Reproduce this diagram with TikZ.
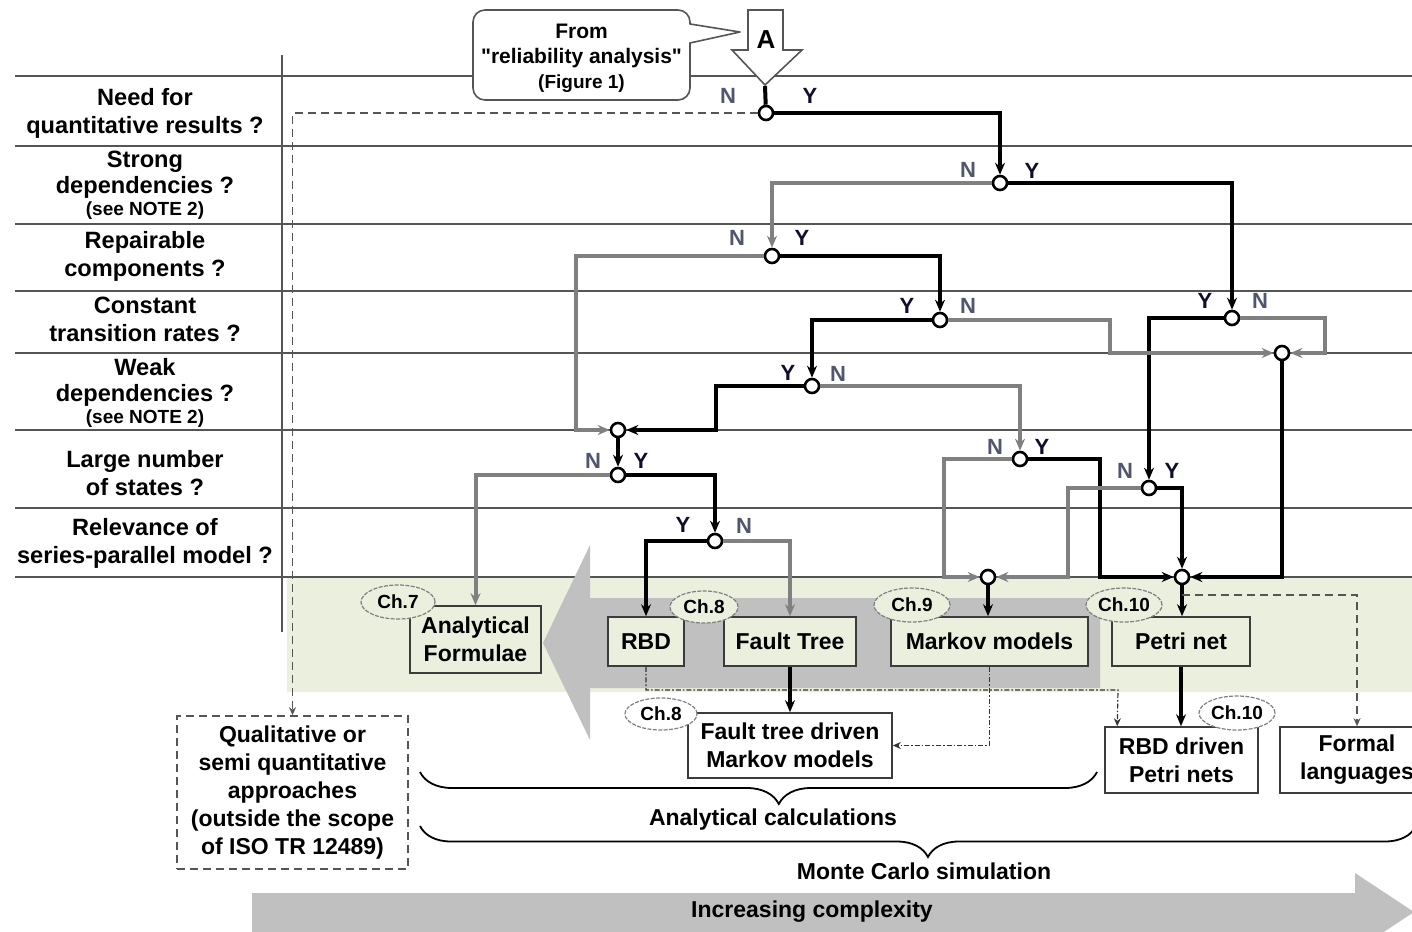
\documentclass[tikz,border=0pt]{standalone}
\usepackage{fontspec}
\setmainfont{Liberation Sans}
\newfontfamily\qfont{Liberation Sans}[Ligatures=TeXOff]
\usetikzlibrary{arrows.meta,shapes.geometric,decorations.pathreplacing,calc}
\definecolor{band}{RGB}{234,239,222}
\definecolor{arrowgray}{RGB}{192,192,192}
\definecolor{nogray}{RGB}{128,128,128}
\definecolor{rulegray}{RGB}{85,85,85}
\definecolor{boxgray}{RGB}{60,60,60}
\definecolor{ncol}{RGB}{80,86,108}
\definecolor{ycol}{RGB}{15,15,45}
\newcommand{\sq}{{\qfont\bfseries "}}
\begin{document}
\begin{tikzpicture}[x=0.5pt,y=-0.5pt,
  every node/.style={font=\bfseries\fontsize{11.5}{14}\selectfont},
  lbl/.style={align=center,inner sep=0pt,font=\bfseries\fontsize{11.8}{14}\selectfont},
  dec/.style={circle,draw=black,fill=white,line width=1.3pt,minimum size=7pt,inner sep=0pt},
  nlab/.style={inner sep=0pt,text=ncol,font=\bfseries\fontsize{11}{13}\selectfont},
  ylab/.style={inner sep=0pt,text=ycol,font=\bfseries\fontsize{11}{13}\selectfont},
  tipb/.style={-{Stealth[length=6pt,width=5pt]}},
  yes/.style={draw=black,line width=2pt,tipb},
  no/.style={draw=nogray,line width=2pt,tipb},
  rowline/.style={draw=rulegray,line width=0.7pt},
  dsh/.style={draw=rulegray,line width=0.6pt,dash pattern=on 4pt off 2.5pt,-{Stealth[length=4pt,width=3.5pt]}},
  ddot/.style={draw=black!80,line width=0.6pt,dash pattern=on 2.5pt off 1pt on 0.8pt off 1pt,-{Stealth[length=4pt,width=3.5pt]}},
  box/.style={draw=boxgray,line width=0.8pt,fill=band,align=center,inner sep=0pt},
  wbox/.style={box,fill=white},
  ch/.style={ellipse,draw=nogray,line width=0.6pt,dash pattern=on 2pt off 0.7pt,fill=band,inner sep=0pt,minimum width=37pt,minimum height=17pt,font=\bfseries\fontsize{9.5}{11}\selectfont},
  wch/.style={ch,fill=white},
  brc/.style={draw=black,line width=0.9pt,decorate}
]
\useasboundingbox (0,0) rectangle (1412,931);
\clip (0,0) rectangle (1412,931);

% green band and big left-pointing gray arrow
\fill[band] (287,577) rectangle (1412,692);
\foreach \yy in {76,146,224,291,353,430,508,577} \draw[rowline] (15,\yy) -- (1412,\yy);
\draw[rowline] (282,55) -- (282,632);
\fill[arrowgray] (590,598) -- (1100,598) -- (1100,688) -- (590,688) -- (590,740) -- (543,643) -- (590,545) -- cycle;

% bottom arrow
\fill[arrowgray] (252,893) -- (1355,893) -- (1355,873) -- (1414,912) -- (1355,951) -- (1355,935) -- (252,935) -- cycle;
\node (inc) at (812,912) {Increasing complexity};

% left question labels
\node[lbl] (l1) at (145,113) {Need for\\quantitative results ?};
\node[lbl] (l2) at (145,185) {Strong\\[-1pt]dependencies ?\\[-3pt]{\fontsize{9.5}{11}\selectfont (see NOTE 2)}};
\node[lbl] (l3) at (145,256) {Repairable\\components ?};
\node[lbl] (l4) at (145,319) {Constant\\transition rates ?};
\node[lbl] (l5) at (145,393) {Weak\\[-1pt]dependencies ?\\[-3pt]{\fontsize{9.5}{11}\selectfont (see NOTE 2)}};
\node[lbl] (l6) at (145,473) {Large number\\of states ?};
\node[lbl] (l7) at (145,543) {Relevance of\\series-parallel model ?};

% callout
\node[draw=rulegray,line width=0.8pt,rounded corners=6pt,fill=white,minimum width=108.5pt,minimum height=45pt,inner sep=0pt] (callout) at (581.5,55) {};
\node[align=center,inner sep=0pt,font=\bfseries\fontsize{10.5}{12.5}\selectfont] (callt) at (581.5,58) {From\\\sq reliability analysis\sq\\{\fontsize{9.5}{12}\selectfont (Figure 1)}};
\fill[white] (686,24) -- (740,32) -- (686,43) -- cycle;
\draw[rulegray,line width=0.8pt,line join=round] (690,24) -- (740,32) -- (690,43);

% arrow A
\draw[rulegray,fill=white,line width=0.8pt] (748,10) -- (783,10) -- (783,50) -- (802,50) -- (765,85) -- (732,50) -- (748,50) -- cycle;
\node[font=\bfseries\fontsize{13}{15}\selectfont] (alab) at (766,40) {A};
\coordinate (atip) at (765,86);

% decision nodes
\node[dec] (q1) at (766,113) {};
\node[dec] (q2) at (1000,183) {};
\node[dec] (q3) at (772,256) {};
\node[dec] (q4a) at (940,320) {};
\node[dec] (q4b) at (1232,318) {};
\node[dec] (m1) at (1282,353) {};
\node[dec] (q5) at (812,386) {};
\node[dec] (j1) at (618,430) {};
\node[dec] (q6) at (618,475) {};
\node[dec] (q7) at (715,541) {};
\node[dec] (q6a) at (1020,459) {};
\node[dec] (q6b) at (1149,488) {};
\node[dec] (m2) at (988,577) {};
\node[dec] (m3) at (1182,577) {};

% Y / N labels
\node[nlab] (n1) at (728,96) {N};   \node[ylab] (y1) at (810,96) {Y};
\node[nlab] (n2) at (968,170) {N};  \node[ylab] (y2) at (1032,171) {Y};
\node[nlab] (n3) at (737,238) {N};  \node[ylab] (y3) at (802,238) {Y};
\node[ylab] (y4a) at (907,306) {Y}; \node[nlab] (n4a) at (968,306) {N};
\node[ylab] (y4b) at (1205,301) {Y};\node[nlab] (n4b) at (1260,301) {N};
\node[ylab] (y5) at (788,373) {Y};  \node[nlab] (n5) at (838,374) {N};
\node[nlab] (n6) at (593,461) {N};  \node[ylab] (y6) at (641,461) {Y};
\node[ylab] (y7) at (683,525) {Y};  \node[nlab] (n7) at (744,526) {N};
\node[nlab] (n6a) at (995,447) {N}; \node[ylab] (y6a) at (1042,447) {Y};
\node[nlab] (n6b) at (1125,471) {N};\node[ylab] (y6b) at (1172,471) {Y};

% method boxes
\node[box,minimum width=65.5pt,minimum height=33.5pt] (af) at (475.5,639.5) {Analytical\\Formulae};
\node[box,minimum width=38pt,minimum height=24.5pt] (rbd) at (646,641.5) {RBD};
\node[box,minimum width=66pt,minimum height=24.5pt] (fault) at (790,641.5) {Fault Tree};
\node[box,minimum width=98.5pt,minimum height=24.5pt] (markov) at (989.5,641.5) {Markov models};
\node[box,minimum width=69pt,minimum height=24.5pt] (petri) at (1181,641.5) {Petri net};
\node[wbox,minimum width=102pt,minimum height=32.5pt] (ftdm) at (790,745.5) {Fault tree driven\\Markov models};
\node[wbox,minimum width=76.5pt,minimum height=33pt] (rbddp) at (1181.5,760) {RBD driven\\Petri nets};
\node[wbox,minimum width=77pt,minimum height=33pt] (formal) at (1357,760) {Formal\\languages};
\node[wbox,draw=rulegray,dash pattern=on 4pt off 2.5pt,minimum width=115.5pt,minimum height=76.5pt] (qual) at (292.5,792.5) {Qualitative or\\semi quantitative\\approaches\\(outside the scope\\of ISO TR 12489)};

% chapter ellipses
\node[ch] (ch7) at (398,602) {Ch.7};
\node[ch,minimum width=34pt,minimum height=16pt] (ch8a) at (704,607) {Ch.8};
\node[wch,minimum width=36pt,minimum height=16pt] (ch8b) at (661,714) {Ch.8};
\node[ch,minimum width=38pt] (ch9) at (912,605) {Ch.9};
\node[ch,minimum width=38pt] (ch10a) at (1124,605) {Ch.10};
\node[wch,minimum width=38pt] (ch10b) at (1237,713) {Ch.10};

% yes branches (black)
\draw[draw=black,line width=2pt] (atip) -- (q1);
\draw[yes] (q1) -| (q2);
\draw[yes] (q2) -| (q4b);
\draw[yes] (q3) -| (q4a);
\draw[yes] (q4a) -| (q5);
\draw[yes] (q4b) -| (q6b);
\draw[yes] (m1) |- (m3);
\draw[yes] (q5) -| (716,430) -- (j1);
\draw[yes] (j1) -- (q6);
\draw[yes] (q6) -| (q7);
\draw[yes] (q7) -| (rbd);
\draw[yes] (q6a) -| (1100,577) -- (m3);
\draw[yes] (q6b) -| (m3);
\draw[yes] (m2) -- (m2 |- markov.north);
\draw[yes] (m3) -- (m3 |- petri.north);
\draw[yes] (fault) -- (ftdm);
\draw[yes] (petri) -- (petri |- rbddp.north);

% no branches (gray)
\draw[no] (q2) -| (q3);
\draw[no] (q3) -| (576,430) -- (j1);
\draw[no] (q4a) -| (1110,353) -- (m1);
\draw[no] (q4b) -| (1325,353) -- (m1);
\draw[no] (q5) -| (q6a);
\draw[no] (q6) -| (af);
\draw[no] (q7) -| (fault);
\draw[no] (q6a) -| (944,577) -- (m2);
\draw[no] (q6b) -| (1068,577) -- (m2);

% dashed and dash-dotted links
\draw[dsh] (q1) -| (qual);
\coordinate (m3d) at (1182,595);
\draw[dsh] (m3d) -| (formal);
\draw[ddot] (rbd) |- (1118,690) -- ($(rbddp.north west)+(13,0)$);
\draw[ddot] (markov) |- (ftdm);

% braces
\draw[brc,decoration={brace,amplitude=16pt,aspect=0.47}] (1097,772) -- (420,772);
\node (ac) at (773,820) {Analytical calculations};
\draw[brc,decoration={brace,amplitude=15.5pt,aspect=0.49}] (1416,826) -- (420,826);
\node (mc) at (924,871) {Monte Carlo simulation};
\end{tikzpicture}
\end{document}
